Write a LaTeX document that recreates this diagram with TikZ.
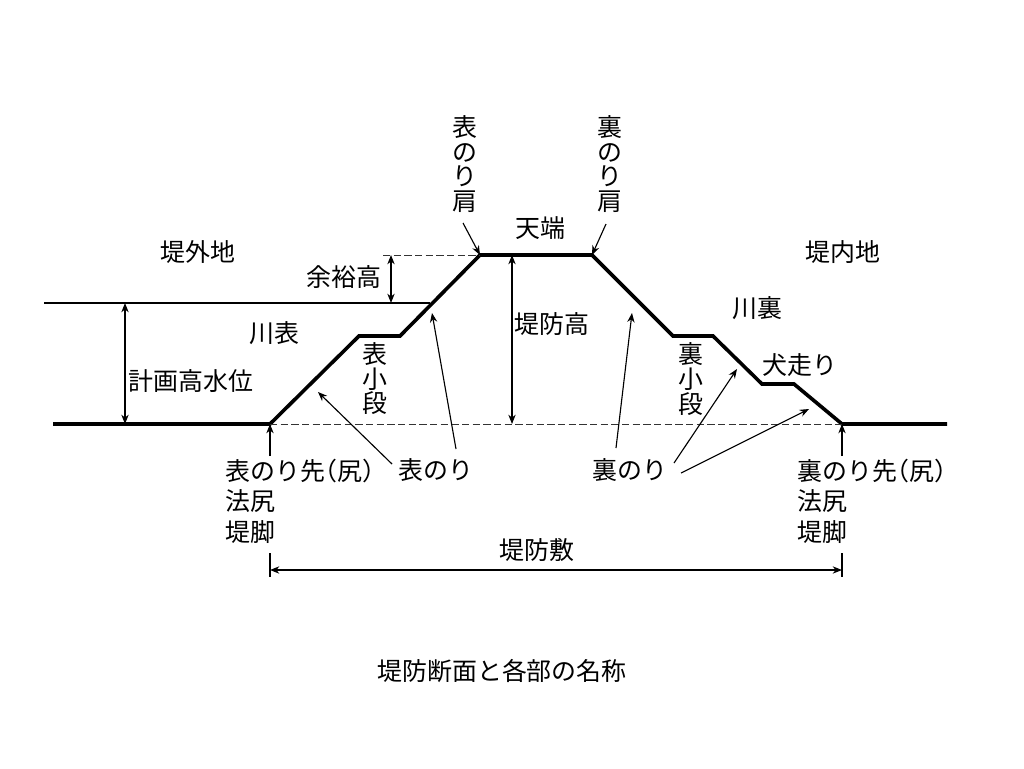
\documentclass[tikz,border=0pt]{standalone}
\usepackage{fontspec}
\setmainfont{Noto Sans CJK JP}
\newfontfamily\parenfont[RawFeature=+halt]{Noto Sans CJK JP}
\usetikzlibrary{arrows.meta,positioning}
\tikzset{
    lbl/.style={inner sep=0pt, font=\fontsize{18.7}{18.4}\selectfont, align=center},
    lblleft/.style={inner sep=0pt, anchor=west, font=\fontsize{18.7}{23}\selectfont, align=left},
    levee/.style={line width=2.7pt, line join=miter},
    thinline/.style={line width=0.85pt},
    guide/.style={line width=0.75pt, draw=black!80, dash pattern=on 5.5pt off 2.5pt},
    arr/.style={line width=0.85pt, -{Stealth[length=7pt,width=5.5pt]}},
    dimarr/.style={line width=0.85pt, {Stealth[length=7pt,width=5.5pt]}-{Stealth[length=7pt,width=5.5pt]}}
}
\begin{document}
\begin{tikzpicture}[x=0.75pt,y=-0.75pt]
    \useasboundingbox (0,0) rectangle (1024,768);

    % Levee profile
    \coordinate (groundL) at (53,424);
    \coordinate (toeL) at (270,424);
    \coordinate (bermLa) at (359,336);
    \coordinate (bermLb) at (400,336);
    \coordinate (crownL) at (480,255);
    \coordinate (crownR) at (592,255);
    \coordinate (bermRa) at (673,336);
    \coordinate (bermRb) at (713,336);
    \coordinate (dogL) at (762,384);
    \coordinate (dogR) at (794,384);
    \coordinate (toeR) at (842,424);
    \coordinate (groundR) at (947,424);
    \draw[levee] (groundL) -- (toeL) -- (bermLa) -- (bermLb) -- (crownL) -- (crownR)
        -- (bermRa) -- (bermRb) -- (dogL) -- (dogR) -- (toeR) -- (groundR);

    % Levels
    \coordinate (waterL) at (44,303);
    \coordinate (waterR) at (430,303);
    \coordinate (guideTop) at (383,255);
    \draw[thinline] (waterL) -- (waterR);
    \draw[guide] (guideTop) -- (crownL);
    \draw[guide] (toeL) -- (toeR);

    % Height arrows
    \coordinate (freeTop) at (391,255);
    \coordinate (freeBot) at (391,303);
    \coordinate (floodTop) at (125,303);
    \coordinate (floodBot) at (125,424);
    \coordinate (heightTop) at (512,255);
    \coordinate (heightBot) at (512,424);
    \draw[dimarr] (freeTop) -- (freeBot);
    \draw[dimarr] (floodTop) -- (floodBot);
    \draw[dimarr] (heightTop) -- (heightBot);

    % Labels
    \node[lbl] (outland) at (198,252) {堤外地};
    \node[lbl] (inland) at (843,252) {堤内地};
    \node[lbl] (freeboard) at (344,277) {余裕高};
    \node[lbl] (riverfront) at (274,333) {川表};
    \node[lbl] (riverback) at (757,308) {川裏};
    \node[lbl] (floodlevel) at (191,381) {計画高水位};
    \node[lbl] (leveeheight) at (552,324) {堤防高};
    \node[lbl] (crown) at (540,228) {天端};
    \node[lbl] (shoulderF) at (465,164) {表\\の\\り\\肩};
    \node[lbl] (shoulderB) at (610,164) {裏\\の\\り\\肩};
    \node[lbl] (bermF) at (375,379) {表\\小\\段};
    \node[lbl] (bermB) at (691,379) {裏\\小\\段};
    \node[lbl] (dogrun) at (800,365) {犬走り};
    \node[lbl] (slopeF) at (436,470) {表のり};
    \node[lbl] (slopeB) at (630,470) {裏のり};
    \node[lblleft] (toeF) at (225,501) {表のり先{\parenfont （}尻{\parenfont ）}\\法尻\\堤脚};
    \node[lblleft] (toeB) at (797,501) {裏のり先{\parenfont （}尻{\parenfont ）}\\法尻\\堤脚};
    \node[lbl] (base) at (537,550) {堤防敷};
    \node[lbl] (caption) at (502,671) {堤防断面と各部の名称};

    % Pointer arrows
    \coordinate (shFfrom) at (463,223);
    \coordinate (shBfrom) at (606,224);
    \draw[arr] (shFfrom) -- (crownL);
    \draw[arr] (shBfrom) -- (crownR);
    \coordinate (toeFfrom) at (270,456);
    \coordinate (toeBfrom) at (842,456);
    \draw[arr] (toeFfrom) -- (toeL);
    \draw[arr] (toeBfrom) -- (toeR);
    \coordinate (sfA) at (392,464);
    \coordinate (sfAtip) at (318,392);
    \coordinate (sfB) at (456,449);
    \coordinate (sfBtip) at (432,313);
    \draw[arr] (sfA) -- (sfAtip);
    \draw[arr] (sfB) -- (sfBtip);
    \coordinate (sbA) at (616,448);
    \coordinate (sbAtip) at (632,313);
    \coordinate (sbB) at (674,463);
    \coordinate (sbBtip) at (737,369);
    \coordinate (sbC) at (681,473);
    \coordinate (sbCtip) at (809,409);
    \draw[arr] (sbA) -- (sbAtip);
    \draw[arr] (sbB) -- (sbBtip);
    \draw[arr] (sbC) -- (sbCtip);

    % Base width
    \coordinate (tickLa) at (270,553);
    \coordinate (tickLb) at (270,577);
    \coordinate (tickRa) at (842,553);
    \coordinate (tickRb) at (842,577);
    \coordinate (baseL) at (270,570);
    \coordinate (baseR) at (842,570);
    \draw[thinline] (tickLa) -- (tickLb);
    \draw[thinline] (tickRa) -- (tickRb);
    \draw[dimarr] (baseL) -- (baseR);
\end{tikzpicture}
\end{document}
